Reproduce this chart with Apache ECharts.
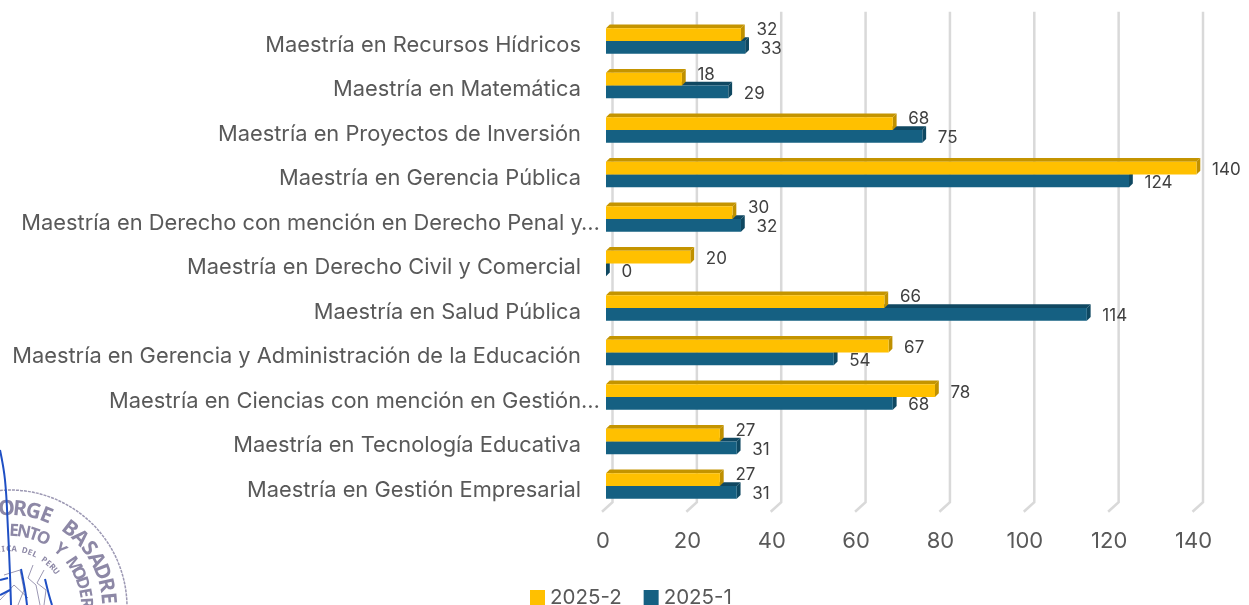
<!DOCTYPE html>
<html><head><meta charset="utf-8">
<style>html,body{margin:0;padding:0;background:#fff}#c{width:1249px;height:605px}</style>
<script src="https://cdn.jsdelivr.net/npm/echarts@6/dist/echarts.min.js"></script>
</head><body><div id="c"></div>
<script>
const categories = ["Maestría en Recursos Hídricos","Maestría en Matemática","Maestría en Proyectos de Inversión","Maestría en Gerencia Pública","Maestría en Derecho con mención en Derecho Penal y…","Maestría en Derecho Civil y Comercial","Maestría en Salud Pública","Maestría en Gerencia y Administración de la Educación","Maestría en Ciencias con mención en Gestión…","Maestría en Tecnología Educativa","Maestría en Gestión Empresarial"];
const values2025_2 = [32,18,68,140,30,20,66,67,78,27,27];
const values2025_1 = [33,29,75,124,32,0,114,54,68,31,31];
const ticks = [0,20,40,60,80,100,120,140];
const FONT = 'Inter, "Noto Sans", sans-serif';
const SEALFONT = '"Noto Sans", sans-serif';
const TXT = '#595959';

function bar3d(color, top, side, sign, others) {
  return function (params, api) {
    const v = api.value(0), i = params.dataIndex;
    const band = api.size([0, 1])[1];
    const p0 = api.coord([0, i]), p1 = api.coord([v, i]);
    const h = band * 0.286, d = 3.8;
    const yT = sign < 0 ? p0[1] - h : p0[1], yB = yT + h;
    const x0 = p0[0], x1 = p1[0];
    const raise = (sign < 0 && v < others[i]) ? -4.5 : 2;
    return { type: 'group', children: [
      { type: 'polygon', shape: { points: [[x0, yT], [x0 + d, yT - d], [x1 + d, yT - d], [x1, yT]] }, style: { fill: top, stroke: null } },
      { type: 'polygon', shape: { points: [[x1, yT], [x1 + d, yT - d], [x1 + d, yB - d], [x1, yB]] }, style: { fill: side, stroke: null } },
      { type: 'rect', shape: { x: x0, y: yT, width: x1 - x0, height: h }, style: { fill: color, stroke: null } },
      { type: 'text', style: { text: String(v), x: x1 + 15.5, y: (yT + yB) / 2 + raise, align: 'left', verticalAlign: 'middle', fill: '#404040', font: '17px ' + FONT } }
    ] };
  };
}

const seal = [];
const C = [10, 607];
function ring(txt, r, a0, a1, font) {
  [...txt].forEach((ch, k) => {
    const a = (a0 + (a1 - a0) * k / (txt.length - 1)) * Math.PI / 180;
    seal.push({ type: 'text', x: C[0] + r * Math.sin(a), y: C[1] - r * Math.cos(a), rotation: -a, silent: true,
      style: { text: ch, align: 'center', verticalAlign: 'middle', fill: '#8d88a6', font: font } });
  });
}
ring('ORGE BASADRE', 98, -2, 85, 'bold 21px ' + SEALFONT);
ring('ENTO Y MODER', 76, 3, 87, 'bold 17px ' + SEALFONT);
ring('LICA DEL PERU', 58, -12, 52, 'bold 8px ' + SEALFONT);
seal.push({ type: 'arc', silent: true, shape: { cx: C[0], cy: C[1], r: 117, startAngle: -Math.PI * 0.56, endAngle: 0 }, style: { fill: null, stroke: '#9c98b3', lineWidth: 1.5, lineDash: [3, 1] } });
[[[33,565],[28,578],[36,585],[40,605]], [[44,570],[37,583],[46,590],[44,605]], [[4,575],[20,570],[24,590],[18,605]], [[0,600],[14,585],[28,598]]].forEach(points => {
  seal.push({ type: 'polyline', silent: true, shape: { points }, style: { fill: null, stroke: '#9c98b3', lineWidth: 1 } });
});
const blue = '#1f4fc4';
[[[0,450],[5,480],[8,530],[10,575],[11,605]], [[21,569],[25,590],[27,605]], [[45,579],[49,595],[52,605]], [[0,580],[8,578]], [[0,595],[10,590]]].forEach(points => {
  seal.push({ type: 'polyline', silent: true, shape: { points, smooth: 0.4 }, style: { fill: null, stroke: blue, lineWidth: 2 } });
});

const chart = echarts.init(document.getElementById('c'), null, { renderer: 'canvas' });
chart.setOption({
  animation: false,
  backgroundColor: '#fff',
  graphic: { elements: seal.map(e => Object.assign({ z: 0 }, e)) },
  legend: {
    data: ['2025-2', '2025-1'], left: 525, top: 582, itemWidth: 15, itemHeight: 15, itemGap: 22,
    icon: 'rect', textStyle: { color: TXT, fontSize: 20.5, fontFamily: FONT }
  },
  grid: { left: 606, width: 590.5, top: 18.75, height: 489.5, containLabel: false },
  xAxis: {
    type: 'value', min: 0, max: 140, interval: 20,
    axisLine: { show: false }, axisTick: { show: false }, splitLine: { show: false },
    axisLabel: { color: TXT, fontSize: 22, fontFamily: FONT, margin: 22, padding: [0, 6, 0, 0] }
  },
  yAxis: {
    type: 'category', inverse: true, data: categories,
    axisLine: { show: false }, axisTick: { show: false }, splitLine: { show: false },
    axisLabel: {
      margin: 6, interval: 0, align: 'right', color: TXT,
      formatter: s => (s.endsWith('…') ? '{t|' : '{n|') + s + '}',
      rich: {
        n: { color: TXT, fontSize: 21.85, fontFamily: FONT, padding: [8, 19, 0, 0] },
        t: { color: TXT, fontSize: 21.85, fontFamily: FONT, padding: [8, 0, 0, 0] }
      }
    }
  },
  series: [
    { type: 'custom', name: 'walls', silent: true, z: 1, clip: false, data: ticks.map(t => [t]),
      encode: { x: 0 }, renderItem: (params, api) => {
        const x = api.coord([api.value(0), 0])[0];
        const top = params.coordSys.y;
        const bottom = top + params.coordSys.height;
        return { type: 'polyline', shape: { points: [[x + 6.5, top - 7], [x + 6.5, bottom - 6], [x - 4, bottom + 3.5]] },
          style: { fill: null, stroke: '#d9d9d9', lineWidth: 2.5 } };
      } },
    { type: 'custom', name: '2025-1', z: 2, clip: false, itemStyle: { color: '#156082' },
      data: values2025_1.map((v, i) => [v, i]), encode: { x: 0, y: 1 },
      renderItem: bar3d('#156082', '#104862', '#0f4861', 1, values2025_2) },
    { type: 'custom', name: '2025-2', z: 3, clip: false, itemStyle: { color: '#FFC000' },
      data: values2025_2.map((v, i) => [v, i]), encode: { x: 0, y: 1 },
      renderItem: bar3d('#FFC000', '#C49400', '#BF9000', -1, values2025_1) }
  ]
});
</script></body></html>
